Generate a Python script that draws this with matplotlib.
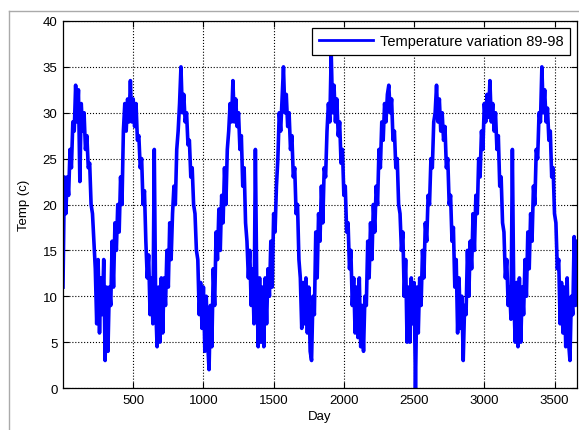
import matplotlib
matplotlib.use("Agg")
import matplotlib.pyplot as plt
import numpy as np
from matplotlib.lines import Line2D

# daily temperature, one value every 10 days (day 0 .. 3660)
temps = [
    11, 23, 19, 23, 21, 26, 24, 29, 28, 33,
    29, 32.5, 22.5, 31, 28, 30, 26, 27.5, 24, 24.5,
    20, 19, 16, 13, 7, 14, 6, 12, 8, 14,
    3, 11, 4, 11, 9, 16, 11, 18, 15, 20,
    17, 23, 20, 28, 31, 28, 31.5, 29, 33.5, 29,
    31.5, 28.5, 31, 27, 27.5, 24, 25, 20, 21.5, 16,
    12, 14.5, 8, 12, 7, 26, 9, 4.5, 11, 5,
    12, 6, 12, 9, 15, 11, 18, 14, 19, 22,
    20, 26, 28, 31, 35, 30, 32, 29, 30, 26.5,
    27, 23, 24, 20, 19, 15, 14, 8, 11.5, 6.5,
    11, 4, 10, 5, 2, 9, 4.5, 13, 9, 17,
    14, 19.5, 15, 21, 18, 24, 20, 26, 28, 31,
    29, 33.5, 29, 31.5, 28.5, 30, 26, 27.5, 22, 24,
    18, 16, 12, 15, 9, 13, 7, 26, 11, 4.5,
    12, 5, 11, 4.5, 12, 7, 13, 10, 16, 11,
    19, 17, 22, 25, 30, 28, 31.5, 35, 30, 32,
    28.5, 30, 26, 27.5, 23, 24, 19, 20, 14, 12,
    6.5, 11.5, 7, 12, 6, 11, 4, 3, 10, 8,
    17, 12, 19, 16, 22, 18, 24, 23, 28, 31,
    29, 36.5, 30, 33, 29, 31.5, 27.5, 29, 24.5, 26,
    21, 22, 17, 18, 13, 15, 9, 12, 6, 11,
    5.5, 12, 4.5, 9, 4, 10, 9, 16, 12, 18,
    14, 20, 17, 22, 20, 26, 24, 29, 27, 31,
    29, 32, 33, 30, 31.5, 27, 28, 24, 25, 20,
    19, 15, 17, 10, 14, 5, 11, 5, 12, 7,
    11.5, 0, 11, 6, 12, 9, 15, 12, 18, 16,
    21, 20, 25, 24, 29, 30, 33, 29, 31.5, 28,
    30, 27, 28.5, 24, 25, 20, 21, 16, 17.5, 11,
    14, 6, 12, 6.5, 10, 3, 9, 8, 15, 10,
    16, 13, 19, 15, 21, 19, 25, 23, 28, 26,
    31, 29, 32, 29.5, 33.5, 29, 31, 28, 30, 26,
    27.5, 22, 23, 18, 17, 12, 14, 9, 11, 7.5,
    26, 10, 5, 11.5, 4.5, 12, 5, 11, 8, 14,
    10, 17, 13, 19, 16, 22, 20, 26, 25, 30,
    29, 35, 30, 32.5, 29, 30.5, 27, 28, 23, 24,
    19, 18, 13, 14, 7, 11.5, 6, 11, 4.5, 12,
    5, 3, 10, 8, 16.5, 9, 16,
]
days = np.arange(len(temps)) * 10

x_ticks = [500, 1000, 1500, 2000, 2500, 3000, 3500]
y_ticks = [0, 5, 10, 15, 20, 25, 30, 35, 40]

plt.rcParams['font.family'] = ['Liberation Sans', 'DejaVu Sans']

fig = plt.figure(figsize=(5.79, 4.31), dpi=100)
ax = fig.add_axes([0.1088, 0.0974, 0.8877, 0.8516])

ax.plot(days, temps, color=(0, 0, 1), linewidth=2.6,
        label="Temperature variation 89-98")

ax.set_xlim(0, 3660)
ax.set_ylim(0, 40)
ax.set_xticks(x_ticks)
ax.set_yticks(y_ticks)
ax.grid(True, color='black', linestyle=':', linewidth=0.8)
ax.tick_params(direction='in', top=True, right=True, labelsize=9.5,
               length=4, width=0.8, pad=4)
for s in ax.spines.values():
    s.set_linewidth(0.9)

ax.set_xlabel("Day", fontsize=9.5, labelpad=3)
ax.set_ylabel("Temp (c)", fontsize=9.5, labelpad=9)

leg = ax.legend(loc='upper right', fontsize=10.5, handlelength=3.7,
                handletextpad=0.5, fancybox=False, framealpha=1,
                borderaxespad=0.45, borderpad=0.45)
leg.get_frame().set_edgecolor('black')
leg.get_frame().set_linewidth(0.9)
leg.get_lines()[0].set_linewidth(2.0)

# light gray frame of the surrounding figure box
fig.add_artist(Line2D([9 / 579, 9 / 579], [0, 1 - 12 / 431],
                      transform=fig.transFigure, color='#aaaaaa', lw=1))
fig.add_artist(Line2D([9 / 579, 1], [1 - 12 / 431, 1 - 12 / 431],
                      transform=fig.transFigure, color='#aaaaaa', lw=1))

fig.savefig("out.png", dpi=100)
